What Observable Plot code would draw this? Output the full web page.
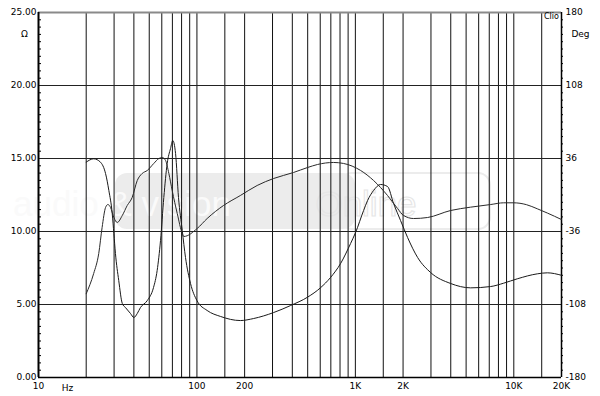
<!DOCTYPE html>
<html>
<head>
<meta charset="utf-8">
<script src="https://cdn.jsdelivr.net/npm/d3@7"></script>
<script src="https://cdn.jsdelivr.net/npm/@observablehq/plot@0.6"></script>
<style>
  html, body { margin: 0; padding: 0; background: #fff; }
  #chart { width: 600px; height: 396px; }
</style>
</head>
<body>
<div id="chart"></div>
<script>
// Impedance magnitude (Ω)
const magFreq = [20,22.3,24.6,26.5,27.8,29.2,29.9,30.6,32.1,33.8,35.4,38.1,40,42,44,48.6,53.2,56.1,58.9,61.8,64.9,68.1,70.4,73.3,76.5,80.8,84.7,91.1,100,116,141,188,228,305,390,499,603,697,807,933,1003,1127,1194,1303,1443,1596,1742,1929,2136,2471,2985,3991,5337,7140,8630,10520,14070,16290,20000];
const magOhm  = [14.75,14.98,14.75,13.97,12.81,11.23,9.86,8.49,6.64,5.07,4.79,4.38,4.11,4.38,4.79,5.27,6.16,7.33,9.38,12.33,14.66,15.68,16.23,15.34,12.33,10.07,8.22,6.44,5.27,4.59,4.18,3.90,4.04,4.45,4.93,5.50,6.15,6.85,7.81,9.18,9.93,11.44,12.12,12.81,13.22,13.08,11.92,10.75,9.59,8.22,7.19,6.44,6.14,6.23,6.46,6.76,7.10,7.17,7.00];

// Impedance phase (deg)
const phFreq = [20,22.3,24.0,25.2,26.5,27.4,28.5,29.9,31.4,33.8,36.3,39.0,42.0,45.1,48.6,53.4,57.5,60.4,63.4,66.5,69.8,75.1,80.8,82.7,100.4,116,147,188,240,305,407,499,577,728,843,1079,1303,1596,1846,2015,2330,2857,3991,5337,7140,8630,9970,12000,14070,16290,20000];
const phDeg  = [-97.4,-77.4,-57.7,-32.1,-12.3,-9.4,-12.3,-22.2,-27.1,-20.2,-10.4,-2.5,14.3,21.2,24.2,31.1,36.0,37.0,34.0,21.2,4.4,-18.2,-38.0,-40.9,-33.0,-23.2,-10.4,-0.5,9.4,16.3,22.2,27.1,30.1,32.1,31.1,24.2,14.3,-0.5,-13.3,-20.2,-23.2,-22.2,-15.3,-12.0,-9.4,-7.7,-7.7,-9.5,-13.6,-17.8,-24.2];

// Axes
const ohmTicks = [0, 5, 10, 15, 20, 25];
const degTicks = [-180, -108, -36, 36, 108, 180];
const minorTicks = d3.range(0, 25.01, 0.5).filter(v => v % 5 !== 0);
const xLabelVals = [10, 50, 100, 200, 500, 1000, 2000, 5000, 10000, 20000];
const xLabelText = ["10", "50", "100", "200", "500", "1K", "2K", "5K", "10K", "20K"];
const gridFreqs = [20,30,40,50,60,70,80,90,100,150,200,300,400,500,600,700,800,900,1000,1500,2000,3000,4000,5000,6000,7000,8000,9000,10000,15000];

const degToOhm = d => (d + 180) / 14.4;

const magData = magFreq.map((f, i) => ({f, v: magOhm[i]}));
const phData = phFreq.map((f, i) => ({f, v: phDeg[i]}));

const font = "DejaVu Sans";

const chart = Plot.plot({
  width: 600,
  height: 396,
  marginLeft: 38,
  marginRight: 39,
  marginTop: 12,
  marginBottom: 19,
  style: {fontFamily: font, fontSize: "9px", background: "#fff", color: "#000"},
  x: {type: "log", domain: [10, 20000]},
  y: {domain: [0, 25]},
  marks: [
    Plot.gridX(gridFreqs, {stroke: "#111", strokeOpacity: 1, strokeWidth: 1}),
    Plot.gridY(ohmTicks.slice(1, -1), {stroke: "#222", strokeOpacity: 1, strokeWidth: 1}),
    Plot.ruleY([25], {stroke: "#8a8a8a", strokeWidth: 2}),
    Plot.ruleY([0], {stroke: "#000", strokeWidth: 1.5}),
    Plot.ruleX([10], {stroke: "#000", strokeWidth: 2}),
    Plot.ruleX([20000], {stroke: "#000", strokeWidth: 1.5}),
    Plot.axisY(minorTicks, {anchor: "left", tickSize: 3, dx: 3, tickFormat: () => "", label: null}),
    Plot.axisY(minorTicks, {anchor: "right", tickSize: 2, dx: -1, tickFormat: () => "", label: null}),
    Plot.axisY(ohmTicks, {anchor: "left", tickSize: 0, tickPadding: 2, tickFormat: d => d.toFixed(2), fontSize: 9, label: null}),
    Plot.axisY(degTicks.map(degToOhm), {anchor: "right", tickSize: 0, tickPadding: 4, tickFormat: v => String(Math.round(v * 14.4 - 180)), fontSize: 9, label: null}),
    Plot.axisX(xLabelVals, {tickSize: 0, tickPadding: 5, tickFormat: d => xLabelText[xLabelVals.indexOf(d)], fontSize: 9, label: null}),
    Plot.text(["Hz"], {frameAnchor: "bottom-left", textAnchor: "middle", dx: 29, dy: 11, lineAnchor: "middle", fontSize: 9, fill: "#000"}),
    Plot.text(["Ω"], {frameAnchor: "top-left", textAnchor: "middle", dx: -14, dy: 22, lineAnchor: "middle", fontSize: 9, fill: "#000"}),
    Plot.text(["Deg"], {frameAnchor: "top-right", textAnchor: "middle", dx: 19, dy: 22, lineAnchor: "middle", fontSize: 9, fill: "#000"}),
    Plot.text(["Clio"], {frameAnchor: "top-right", textAnchor: "middle", dx: -10, dy: 4, lineAnchor: "middle", fontSize: 8, fill: "#000"}),
    Plot.line(magData, {x: "f", y: "v", stroke: "#1a1a1a", strokeWidth: 1, curve: "monotone-x"}),
    Plot.line(phData, {x: "f", y: d => degToOhm(d.v), stroke: "#2a2a2a", strokeWidth: 1, curve: "monotone-x"})
  ]
});

// faint watermark behind the grid
const ns = "http://www.w3.org/2000/svg";
const wm = document.createElementNS(ns, "g");
wm.setAttribute("font-family", "Liberation Sans");
wm.setAttribute("font-size", "35");
const r1 = document.createElementNS(ns, "rect");
r1.setAttribute("x", 115); r1.setAttribute("y", 173); r1.setAttribute("width", 240); r1.setAttribute("height", 56);
r1.setAttribute("rx", 12); r1.setAttribute("fill", "#ececec");
const r2 = document.createElementNS(ns, "rect");
r2.setAttribute("x", 340); r2.setAttribute("y", 173); r2.setAttribute("width", 150); r2.setAttribute("height", 56);
r2.setAttribute("rx", 12); r2.setAttribute("fill", "none"); r2.setAttribute("stroke", "#ececec"); r2.setAttribute("stroke-width", "2");
const t1 = document.createElementNS(ns, "text");
t1.setAttribute("x", 122); t1.setAttribute("y", 216); t1.setAttribute("fill", "#fafafa");
t1.textContent = "audio & vision";
const t2 = document.createElementNS(ns, "text");
t2.setAttribute("x", 366); t2.setAttribute("y", 216); t2.setAttribute("fill", "none");
t2.setAttribute("stroke", "#e6e6e6"); t2.setAttribute("stroke-width", "1.2");
t2.textContent = "Online";
wm.append(r1, r2, t1, t2);
const firstMark = chart.querySelector("g");
chart.insertBefore(wm, firstMark);

document.getElementById("chart").append(chart);
</script>
</body>
</html>
